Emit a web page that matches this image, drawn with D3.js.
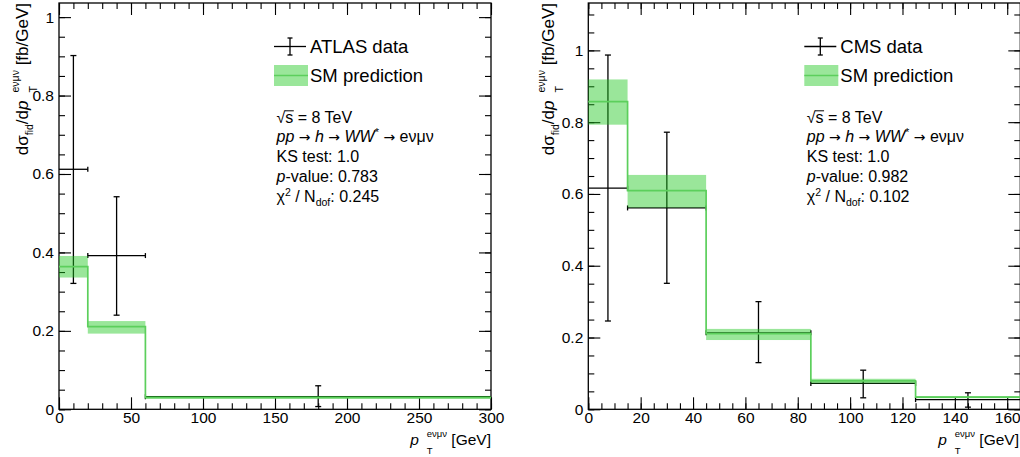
<!DOCTYPE html>
<html><head><meta charset="utf-8">
<script src="https://cdn.jsdelivr.net/npm/d3@7"></script>
<style>
body{margin:0;background:#fff}
svg{display:block}
text{font-family:"Liberation Sans",Arial,Helvetica,sans-serif;fill:#000;white-space:pre}
</style>
</head><body>
<svg id="c" width="1020" height="457"></svg>
<script>
// ---------- ATLAS (left panel) ----------
const atlasEdges = [0, 20, 60, 300];
const atlasData = [0.612, 0.392, 0.032];
const atlasErrLow = [0.321, 0.240, 0.007];
const atlasErrHigh = [0.902, 0.542, 0.060];
const atlasPred = [0.364, 0.211, 0.030];
const atlasPredLow = [0.336, 0.193, 0.027];
const atlasPredHigh = [0.391, 0.225, 0.034];
const atlasXTicks = [0, 50, 100, 150, 200, 250, 300];
const atlasYTicks = [0, 0.2, 0.4, 0.6, 0.8, 1];
const atlasStats = ["1.0", "0.783", "0.245"];

// ---------- CMS (right panel) ----------
const cmsEdges = [0, 15, 45, 85, 125, 165];
const cmsData = [0.616, 0.561, 0.213, 0.072, 0.027];
const cmsErrLow = [0.246, 0.351, 0.130, 0.032, 0.006];
const cmsErrHigh = [0.987, 0.772, 0.300, 0.109, 0.046];
const cmsPred = [0.857, 0.609, 0.211, 0.079, 0.034];
const cmsPredLow = [0.793, 0.562, 0.193, 0.072, 0.031];
const cmsPredHigh = [0.919, 0.653, 0.224, 0.085, 0.037];
const cmsXTicks = [0, 20, 40, 60, 80, 100, 120, 140, 160];
const cmsYTicks = [0, 0.2, 0.4, 0.6, 0.8, 1];
const cmsStats = ["1.0", "0.982", "0.102"];

const svg = d3.select("#c");
const BAND = "rgb(30,200,30)";
const LINE = "#5ccf5c";

function rich(parent, segs, o) {
  const grp = parent.append("g");
  const inner = grp.append("g");
  let x = 0, sx = 0, sw = 0;
  segs.forEach(s => {
    if (s.gap) { x += s.gap; return; }
    const el = inner.append("text").attr("x", x).attr("y", s.dy || 0)
      .attr("xml:space", "preserve")
      .style("font-size", s.sz + "px").text(s.t);
    if (s.it) el.style("font-style", "italic");
    if (s.ff) el.style("font-family", s.ff);
    const w = el.node().getComputedTextLength();
    if (s.pair === 1) { sx = x; sw = w; }
    else if (s.pair === 2) { x = sx + Math.max(sw, w); }
    else x += w;
  });
  if (o.anchor === "end") inner.attr("transform", `translate(${-x},0)`);
  grp.attr("transform", `translate(${o.x},${o.y})` + (o.rot ? ` rotate(${o.rot})` : ""));
  return grp;
}

function panel(cfg) {
  const g = svg.append("g");
  const x = d3.scaleLinear().domain(cfg.xDom).range([cfg.x0, cfg.x1]);
  const y = d3.scaleLinear().domain(cfg.yDom).range([cfg.yB, cfg.yT]);
  const fmt = d => d3.format("~g")(d);
  const xMinor = d3.range(cfg.xDom[0], cfg.xDom[1] + 1e-9, cfg.xMinor);
  const yMinor = d3.range(0, cfg.yDom[1] + 1e-9, 0.05);

  const axes = g.append("g");
  const mk = (gen, tr, vals, size, lab) => {
    const a = axes.append("g").attr("transform", tr)
      .call(gen.tickValues(vals).tickSize(-size).tickSizeOuter(0).tickPadding(lab ? lab : 3)
        .tickFormat(lab ? fmt : ""));
    a.select(".domain").remove();
    a.selectAll("line").attr("stroke", "#000").attr("stroke-width", 1.1);
    a.selectAll("text").style("font-size", "15.5px")
      .style("font-family", '"Liberation Sans",Arial,sans-serif').attr("fill", "#000");
    return a;
  };
  mk(d3.axisBottom(x), `translate(0,${cfg.yB})`, xMinor, 6, 0);
  mk(d3.axisBottom(x), `translate(0,${cfg.yB})`, cfg.xTicks, 12, 3);
  mk(d3.axisTop(x), `translate(0,${cfg.yT})`, xMinor, 6, 0);
  mk(d3.axisTop(x), `translate(0,${cfg.yT})`, cfg.xTicks, 12, 0);
  mk(d3.axisLeft(y), `translate(${cfg.x0},0)`, yMinor, 6, 0);
  mk(d3.axisLeft(y), `translate(${cfg.x0},0)`, cfg.yTicks, 12, 5);
  mk(d3.axisRight(y), `translate(${cfg.x1},0)`, yMinor, 6, 0);
  mk(d3.axisRight(y), `translate(${cfg.x1},0)`, cfg.yTicks, 12, 0);

  g.append("rect").attr("x", cfg.x0).attr("y", cfg.yT)
    .attr("width", cfg.x1 - cfg.x0).attr("height", cfg.yB - cfg.yT)
    .attr("fill", "none").attr("stroke", "#000").attr("stroke-width", 1.3);

  const E = cfg.edges;
  const bins = cfg.data.map((v, i) => ({
    lo: E[i], hi: E[i + 1], c: (E[i] + E[i + 1]) / 2,
    v, eL: cfg.errLow[i], eH: cfg.errHigh[i],
    p: cfg.pred[i], pL: cfg.predLow[i], pH: cfg.predHigh[i]
  }));

  // data with error bars
  const dg = g.append("g").attr("stroke", "#000").attr("stroke-width", 1.3).attr("fill", "none");
  bins.forEach(b => {
    dg.append("line").attr("x1", x(b.lo)).attr("x2", x(b.hi)).attr("y1", y(b.v)).attr("y2", y(b.v));
    dg.append("line").attr("x1", x(b.c)).attr("x2", x(b.c)).attr("y1", y(b.eL)).attr("y2", y(b.eH));
    [b.eL, b.eH].forEach(e => dg.append("line").attr("x1", x(b.c) - 3).attr("x2", x(b.c) + 3)
      .attr("y1", y(e)).attr("y2", y(e)));
    [b.lo, b.hi].forEach(e => { if (e !== cfg.xDom[0] && e !== cfg.xDom[1])
      dg.append("line").attr("x1", x(e)).attr("x2", x(e)).attr("y1", y(b.v) - 2.5).attr("y2", y(b.v) + 2.5); });
  });

  // prediction band
  g.append("g").selectAll("rect").data(bins).join("rect")
    .attr("x", b => x(b.lo)).attr("width", b => x(b.hi) - x(b.lo))
    .attr("y", b => y(b.pH)).attr("height", b => y(b.pL) - y(b.pH))
    .attr("fill", BAND).attr("fill-opacity", 0.45);

  // prediction step line
  const pts = [];
  bins.forEach(b => { pts.push([x(b.lo), y(b.p)]); pts.push([x(b.hi), y(b.p)]); });
  g.append("path").attr("d", d3.line()(pts)).attr("fill", "none")
    .attr("stroke", LINE).attr("stroke-width", 1.7);

  // legend
  const L = cfg.lx;
  const lg = g.append("g");
  lg.append("line").attr("x1", L).attr("x2", L + 32).attr("y1", 46.5).attr("y2", 46.5)
    .attr("stroke", "#000").attr("stroke-width", 1.3);
  lg.append("line").attr("x1", L + 16).attr("x2", L + 16).attr("y1", 38).attr("y2", 55)
    .attr("stroke", "#000").attr("stroke-width", 1.3);
  [38, 55].forEach(yy => lg.append("line").attr("x1", L + 13.5).attr("x2", L + 18.5)
    .attr("y1", yy).attr("y2", yy).attr("stroke", "#000").attr("stroke-width", 1.3));
  lg.append("text").attr("x", L + 36).attr("y", 53.3).style("font-size", "18.5px").text(cfg.label);
  lg.append("rect").attr("x", L).attr("y", 65).attr("width", 34).attr("height", 21)
    .attr("fill", BAND).attr("fill-opacity", 0.45);
  lg.append("line").attr("x1", L).attr("x2", L + 34).attr("y1", 75.5).attr("y2", 75.5)
    .attr("stroke", LINE).attr("stroke-width", 1.7);
  lg.append("text").attr("x", L + 36).attr("y", 81.7).style("font-size", "18.5px").text("SM prediction");

  const T = L + 2.5, F = 16, AR = '"DejaVu Sans",sans-serif';
  const sq = rich(g, [{t: "√", sz: F}, {t: "s", sz: F}, {t: " = 8 TeV", sz: F}], {x: T, y: 123.3});
  const sNode = sq.selectAll("text").nodes()[1];
  const sb = sNode.getBBox();
  sq.select("g").append("line").attr("x1", sb.x - 0.5).attr("x2", sb.x + sb.width + 0.5)
    .attr("y1", -12.5).attr("y2", -12.5).attr("stroke", "#000").attr("stroke-width", 1);
  rich(g, [{t: "pp", it: 1, sz: F}, {t: " → ", sz: 14, ff: AR}, {t: "h", it: 1, sz: F}, {t: " → ", sz: 14, ff: AR},
    {t: "WW", it: 1, sz: F}, {t: "*", sz: 11, dy: -6}, {t: " → ", sz: 14, ff: AR}, {t: "eνμν", sz: F}],
    {x: T, y: 141.7});
  rich(g, [{t: "KS test: " + cfg.stats[0], sz: F}], {x: T, y: 161.7});
  rich(g, [{t: "p", it: 1, sz: F}, {t: "-value: " + cfg.stats[1], sz: F}], {x: T, y: 181.7});
  rich(g, [{t: "χ", sz: F}, {t: "2", sz: 10.5, dy: -6}, {t: " / N", sz: F}, {t: "dof", sz: 10.5, dy: 4},
    {t: ": " + cfg.stats[2], sz: F}], {x: T, y: 201.7});

  // axis titles
  const A = 15.5, S = 9.5;
  rich(g, [{t: "p", it: 1, sz: A}, {gap: 8}, {t: "T", sz: S, dy: 8.5, pair: 1},
    {t: "eνμν", sz: S, dy: -8.5, pair: 2}, {t: " [GeV]", sz: A}], {x: cfg.xtx, y: 445, anchor: "end"});
  rich(g, [{t: "dσ", sz: 17}, {t: "fid", sz: 10.5, dy: 5}, {t: "/d", sz: 17}, {t: "p", it: 1, sz: 17},
    {gap: 8}, {t: "T", sz: 10.5, dy: 9, pair: 1}, {t: "eνμν", sz: 10.5, dy: -9, pair: 2},
    {t: " [fb/GeV]", sz: 17}], {x: cfg.ytx, y: 3, rot: -90, anchor: "end"});
}

panel({
  xDom: [0, 300], yDom: [0, 1.036], x0: 59, x1: 491, yT: 3, yB: 409.3,
  xTicks: atlasXTicks, yTicks: atlasYTicks, xMinor: 10,
  edges: atlasEdges, data: atlasData, errLow: atlasErrLow, errHigh: atlasErrHigh,
  pred: atlasPred, predLow: atlasPredLow, predHigh: atlasPredHigh,
  label: "ATLAS data", stats: atlasStats, lx: 274, xtx: 491, ytx: 27.5
});
panel({
  xDom: [0, 165], yDom: [0, 1.132], x0: 588.3, x1: 1020.3, yT: 3, yB: 409.3,
  xTicks: cmsXTicks, yTicks: cmsYTicks, xMinor: 5,
  edges: cmsEdges, data: cmsData, errLow: cmsErrLow, errHigh: cmsErrHigh,
  pred: cmsPred, predLow: cmsPredLow, predHigh: cmsPredHigh,
  label: "CMS data", stats: cmsStats, lx: 804.3, xtx: 1019, ytx: 554
});
</script>
</body></html>
